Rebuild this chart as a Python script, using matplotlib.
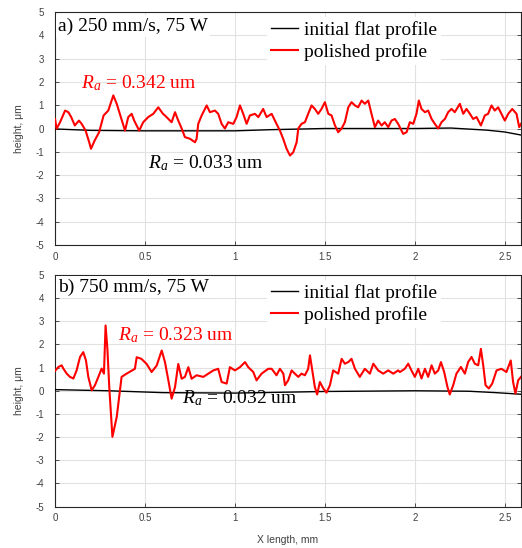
import matplotlib
matplotlib.use("Agg")
import matplotlib.pyplot as plt

plt.rcParams['font.family'] = ['Liberation Sans', 'DejaVu Sans']
plt.rcParams['axes.unicode_minus'] = False
plt.rcParams['mathtext.fontset'] = 'custom'
plt.rcParams['mathtext.rm'] = 'Liberation Serif'
plt.rcParams['mathtext.it'] = 'Liberation Serif:italic'

# ---- panel a) 250 mm/s, 75 W ----
flat_a_x = [0, 0.2, 0.5, 1.0, 1.2, 1.5, 2.0, 2.2, 2.4, 2.5, 2.59]
flat_a_y = [-0.02, -0.08, -0.1, -0.1, -0.05, 0.0, 0.0, 0.02, -0.07, -0.15, -0.28]

pol_a_x = [0.0, 0.009, 0.028, 0.056, 0.074, 0.09, 0.11, 0.133, 0.148, 0.17, 0.19, 0.2,
           0.22, 0.245, 0.27, 0.296, 0.324, 0.343, 0.36, 0.389, 0.407, 0.426, 0.44,
           0.468, 0.49, 0.518, 0.546, 0.574, 0.6, 0.611, 0.648, 0.667, 0.685, 0.704,
           0.722, 0.75, 0.778, 0.787, 0.796, 0.815, 0.843, 0.861, 0.889, 0.907, 0.926,
           0.944, 0.963, 0.991, 1.009, 1.028, 1.046, 1.065, 1.083, 1.111, 1.13, 1.157,
           1.176, 1.204, 1.231, 1.25, 1.268, 1.287, 1.306, 1.324, 1.343, 1.352, 1.37,
           1.389, 1.407, 1.426, 1.444, 1.463, 1.481, 1.5, 1.519, 1.537, 1.556, 1.574,
           1.593, 1.611, 1.63, 1.648, 1.667, 1.685, 1.704, 1.722, 1.741, 1.759, 1.778,
           1.796, 1.815, 1.833, 1.852, 1.87, 1.889, 1.907, 1.935, 1.954, 1.972, 1.991,
           2.009, 2.022, 2.037, 2.056, 2.074, 2.093, 2.111, 2.13, 2.148, 2.167, 2.185,
           2.204, 2.222, 2.25, 2.269, 2.287, 2.306, 2.324, 2.343, 2.367, 2.389, 2.407,
           2.426, 2.444, 2.463, 2.481, 2.5, 2.519, 2.541, 2.565, 2.58, 2.59]
pol_a_y = [0.41, -0.01, 0.27, 0.77, 0.7, 0.49, 0.13, 0.34, 0.2, -0.09, -0.59, -0.87,
           -0.52, -0.16, 0.56, 0.77, 1.42, 1.06, 0.63, -0.09, 0.49, 0.63, 0.34,
           -0.09, 0.27, 0.49, 0.63, 0.91, 0.63, 0.56, 0.27, 0.7, 0.34, 0.0,
           -0.37, -0.44, -0.59, -0.44, 0.2, 0.56, 0.99, 0.7, 0.77, 0.63, 0.2,
           0.0, 0.27, 0.2, 0.49, 0.99, 0.63, 0.2, 0.56, 0.63, 0.49, 0.84,
           0.49, 0.63, 0.2, -0.09, -0.44, -0.87, -1.16, -1.02, -0.59, 0.0, 0.2,
           0.27, 0.63, 0.99, 0.84, 0.63, 0.84, 1.13, 0.63, 0.56, 0.13, -0.16,
           0.0, 0.27, 0.91, 1.13, 0.99, 0.91, 1.2, 1.06, 1.2, 0.63, 0.06,
           0.34, 0.13, 0.27, 0.06, 0.34, 0.41, 0.2, -0.23, -0.16, 0.27, 0.2,
           0.63, 1.2, 0.84, 0.7, 0.77, 0.41, 0.2, 0.0, 0.27, 0.41, 0.7,
           0.84, 0.7, 1.06, 0.63, 0.84, 0.63, 0.41, 0.49, 0.13, 0.56, 0.63,
           0.99, 0.77, 0.91, 0.63, 0.34, 0.63, 0.84, 0.63, 0.06, 0.2]

# ---- panel b) 750 mm/s, 75 W ----
flat_b_x = [0, 0.3, 0.6, 1.0, 1.5, 2.0, 2.3, 2.45, 2.59]
flat_b_y = [0.05, 0.0, -0.08, -0.1, -0.03, 0.0, -0.02, -0.08, -0.15]

pol_b_x = [0.0, 0.019, 0.037, 0.046, 0.065, 0.083, 0.102, 0.12, 0.139, 0.157, 0.172,
           0.185, 0.204, 0.222, 0.241, 0.259, 0.272, 0.281, 0.291, 0.302, 0.319,
           0.343, 0.37, 0.398, 0.444, 0.454, 0.48, 0.509, 0.537, 0.565, 0.593, 0.611,
           0.63, 0.648, 0.667, 0.685, 0.704, 0.722, 0.741, 0.759, 0.787, 0.824, 0.852,
           0.88, 0.907, 0.926, 0.954, 0.972, 1.0, 1.028, 1.056, 1.074, 1.102, 1.12,
           1.148, 1.185, 1.204, 1.231, 1.25, 1.269, 1.278, 1.296, 1.315, 1.333, 1.352,
           1.37, 1.389, 1.407, 1.417, 1.43, 1.444, 1.457, 1.472, 1.491, 1.509, 1.528,
           1.546, 1.574, 1.593, 1.611, 1.63, 1.648, 1.667, 1.694, 1.722, 1.75, 1.769,
           1.796, 1.824, 1.852, 1.88, 1.907, 1.917, 1.944, 1.963, 1.981, 2.0, 2.019,
           2.037, 2.056, 2.074, 2.093, 2.111, 2.13, 2.145, 2.163, 2.181, 2.194, 2.213,
           2.231, 2.256, 2.278, 2.296, 2.315, 2.333, 2.352, 2.367, 2.38, 2.393, 2.411,
           2.43, 2.454, 2.481, 2.509, 2.533, 2.546, 2.559, 2.574, 2.59]
pol_b_y = [0.86, 1.03, 1.1, 0.96, 0.74, 0.6, 0.53, 0.88, 1.46, 1.67, 1.31,
           0.6, 0.02, 0.24, 0.6, 0.96, 0.74, 2.82, 1.82, 0.09, -1.99,
           -1.13, 0.6, 0.74, 0.95, 1.45, 1.38, 1.16, 0.81, 1.09, 1.74, 1.24,
           0.45, -0.34, 0.16, 1.16, 0.52, 0.6, 1.02, 0.52, 0.67, 0.6, 0.74,
           0.88, 0.95, 0.38, 0.31, 1.02, 0.88, 1.02, 1.24, 1.02, 0.81, 0.45,
           0.74, 0.95, 0.95, 0.67, 0.95, 0.74, 0.24, 0.45, 0.88, 0.74, 0.6,
           0.74, 0.67, 0.95, 1.53, 0.88, 0.17, -0.16, 0.38, 0.1, -0.08, 0.24,
           0.88, 0.74, 1.38, 1.17, 1.24, 1.38, 0.95, 0.6, 0.95, 0.74, 1.17,
           0.88, 0.74, 0.88, 0.74, 0.88, 0.81, 0.95, 1.17, 0.88, 0.6, 0.95,
           0.53, 0.95, 0.6, 1.1, 0.74, 0.88, 1.24, 0.81, 0.17, -0.16, 0.24,
           0.74, 1.03, 0.74, 1.24, 1.46, 1.17, 1.1, 1.81, 1.1, 0.24, 0.1,
           0.31, 0.88, 0.95, 0.81, 1.31, 0.38, -0.12, 0.45, 0.6]

panels = [
    ("a) 250 mm/s, 75 W", 0.94, flat_a_x, flat_a_y, pol_a_x, pol_a_y,
     "0.342", (0.144, 1.93), "0.033", (0.517, -1.5)),
    ("b) 750 mm/s, 75 W", 0.949, flat_b_x, flat_b_y, pol_b_x, pol_b_y,
     "0.323", (0.35, 2.39), "0.032", (0.706, -0.3)),
]

xticks = [0, 0.5, 1, 1.5, 2, 2.5]
yticks = list(range(-5, 6))

fig = plt.figure(figsize=(5.22, 5.48), dpi=100)
boxes = [[0.1054, 0.5529, 0.8927, 0.4252], [0.1054, 0.0757, 0.8927, 0.4224]]
serif = 'Liberation Serif'
tick_col = '#404040'
fs = 14

for box, (title, ty, fx, fy, px, py, ra_p, ra_p_xy, ra_f, ra_f_xy) in zip(boxes, panels):
    ax = fig.add_axes(box)
    ax.plot(fx, fy, color='black', lw=1.0, label='initial flat profile', zorder=3)
    ax.plot(px, py, color='red', lw=1.5, label='polished profile', zorder=4)
    ax.set_xlim(0, 2.59)
    ax.set_ylim(-5, 5)
    ax.set_xticks(xticks)
    ax.set_xticklabels(['0', '0.5', '1', '1.5', '2', '2.5'])
    ax.set_yticks(yticks)
    ax.grid(True, color='#e2e2e2', lw=0.8)
    ax.set_axisbelow(True)
    ax.tick_params(direction='in', length=3, width=0.6, labelsize=7,
                   labelcolor=tick_col, color='#333333', right=True, top=False)
    ax.tick_params(axis='y', pad=8)
    ax.tick_params(axis='x', pad=5)
    for s in ax.spines.values():
        s.set_color('#262626')
        s.set_linewidth(0.8)
    ax.set_ylabel('height, μm', fontsize=7.5, color=tick_col, labelpad=8)

    ax.text(0.006, ty, title, transform=ax.transAxes,
            fontsize=fs, family=serif, ha='left', va='center', zorder=6,
            bbox=dict(facecolor='white', edgecolor='none', pad=1.5))
    leg = ax.legend(loc='upper left', bbox_to_anchor=(0.451, 0.985), borderaxespad=0.1,
                    prop={'family': serif, 'size': fs}, handlelength=1.4,
                    handletextpad=0.3, labelspacing=0.2, borderpad=0.2,
                    fancybox=False, framealpha=1, edgecolor='none')
    leg.set_zorder(6)

    ax.text(ra_p_xy[0], ra_p_xy[1], r'$R_a$ = ' + ra_p + ' um', color='red',
            fontsize=fs, family=serif, ha='left', va='center', zorder=5)
    ax.text(ra_f_xy[0], ra_f_xy[1], r'$R_a$ = ' + ra_f + ' um', color='black',
            fontsize=fs, family=serif, ha='left', va='center', zorder=5)

ax.set_xlabel('X length, mm', fontsize=7.5, color=tick_col, labelpad=8)

fig.savefig('out.png', dpi=100)
